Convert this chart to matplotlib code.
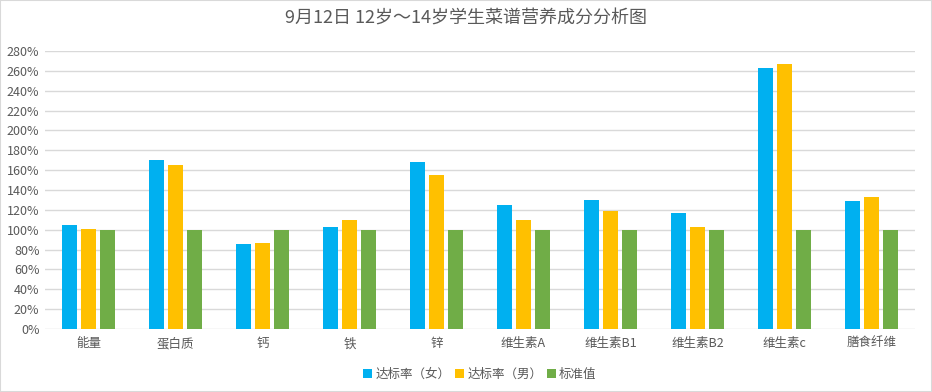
import numpy as np
import matplotlib
matplotlib.use('Agg')
import matplotlib.pyplot as plt
from matplotlib.ticker import FuncFormatter

plt.rcParams['font.family'] = ['Noto Sans CJK SC', 'DejaVu Sans']

categories = ['能量', '蛋白质', '钙', '铁', '锌', '维生素A', '维生素B1', '维生素B2', '维生素c', '膳食纤维']
female = [105, 170, 86, 103, 168, 125, 130, 117, 263, 129]
male = [101, 165, 87, 110, 155, 110, 119, 103, 267, 133]
standard = [100, 100, 100, 100, 100, 100, 100, 100, 100, 100]

series = [('达标率（女）', female, '#00B0F0'),
          ('达标率（男）', male, '#FFC000'),
          ('标准值', standard, '#70AD47')]

fig = plt.figure(figsize=(9.32, 3.92), dpi=100)
ax = fig.add_axes([45 / 932, 63 / 392, 870 / 932, 278 / 392])

x = np.arange(len(categories))
width = 0.175
step = 0.22
for i, (name, vals, color) in enumerate(series):
    ax.bar(x + (i - 1) * step, vals, width, color=color, label=name, zorder=3)

ax.set_xlim(-0.5, len(categories) - 0.5)
ax.set_ylim(0, 280)
ax.set_yticks(range(0, 281, 20))
ax.yaxis.set_major_formatter(FuncFormatter(lambda v, p: f'{int(v)}%'))
ax.set_xticks(x)
ax.set_xticklabels(categories)
ax.grid(axis='y', color='#D9D9D9', linewidth=1, zorder=0)
for s in ax.spines.values():
    s.set_visible(False)
ax.tick_params(axis='both', length=0, colors='#595959', labelsize=9)
ax.tick_params(axis='x', pad=6)
ax.tick_params(axis='y', pad=4)

fig.suptitle('9月12日 12岁～14岁学生菜谱营养成分分析图', y=0.975, fontsize=13, color='#595959')

ax.legend(loc='upper center', bbox_to_anchor=(0.5, -0.1), ncol=3, frameon=False,
          fontsize=9, labelcolor='#595959', handlelength=0.7, handleheight=0.7,
          handletextpad=0.25, columnspacing=0.4)

fig.patches.append(plt.Rectangle((0, 0), 1, 1, transform=fig.transFigure,
                                 fill=False, edgecolor='#D9D9D9', linewidth=1.5))

fig.savefig('out.png', dpi=100)
